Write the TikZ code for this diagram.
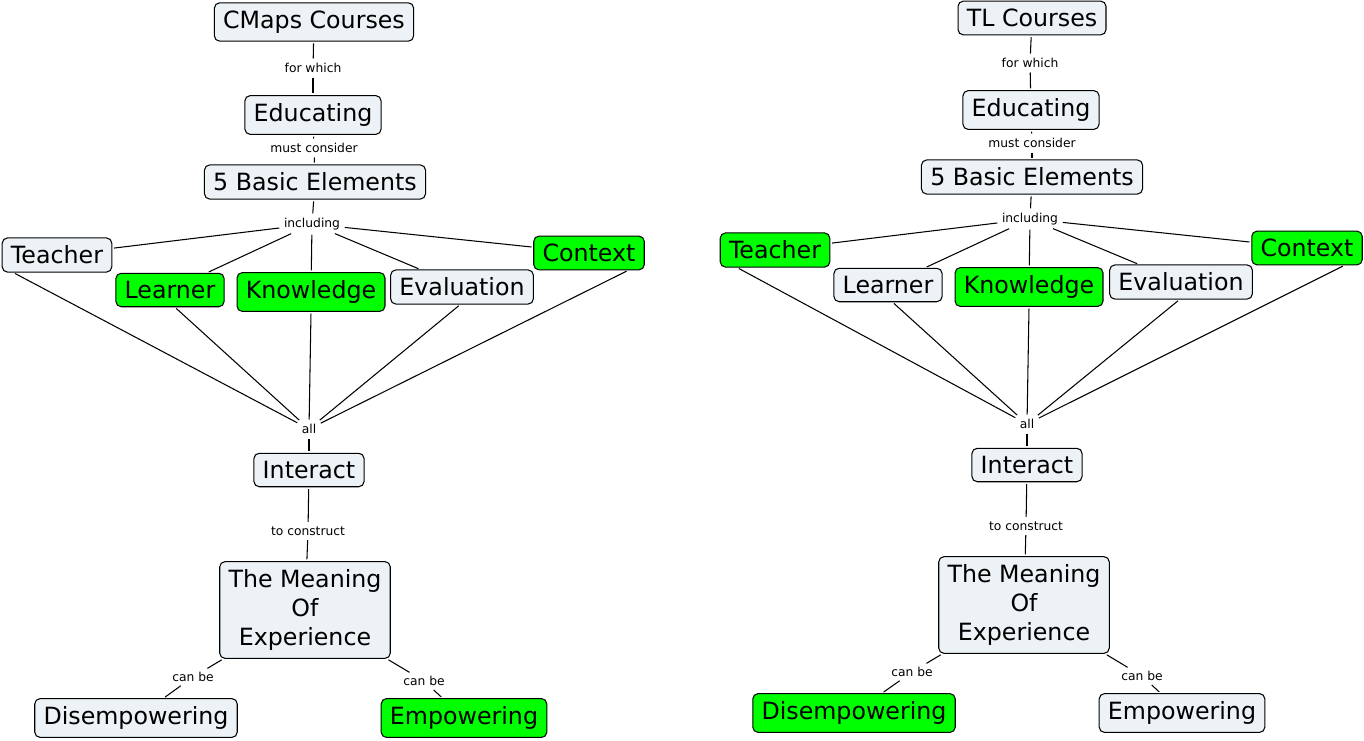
\documentclass[tikz,border=0pt]{standalone}
\usepackage{fontspec}
\setmainfont{DejaVu Sans}
\definecolor{conceptfill}{RGB}{236,242,245}
\definecolor{conceptgreen}{RGB}{0,255,0}
\begin{document}
\begin{tikzpicture}[x=0.02cm, y=-0.02cm,
    concept/.style={draw, line width=0.6pt, rounded corners=3pt, fill=conceptfill,
      inner xsep=5pt, inner ysep=4.5pt, align=center,
      font=\fontsize{13.5}{16.5}\selectfont},
    marked/.style={concept, fill=conceptgreen},
    linking/.style={inner sep=1.5pt, font=\fontsize{7}{8}\selectfont},
    link/.style={line width=0.6pt, shorten <=1pt, shorten >=1pt}]
  \useasboundingbox (0,0) rectangle (1364,740);
  {
  % Left map: concepts
  \node [concept] (coursesL) at (314,22) {CMaps Courses};%
  \node [concept] (educatingL) at (313,115) {Educating};%
  \node [concept] (elementsL) at (315,182) {5 Basic Elements};%
  \node [concept] (teacherL) at (57,255) {Teacher};%
  \node [marked] (learnerL) at (170,290) {Learner};%
  \node [marked] (knowledgeL) at (311,292) {Knowledge};%
  \node [concept] (evaluationL) at (462,287) {Evaluation};%
  \node [marked] (contextL) at (589,253) {Context};%
  \node [concept] (interactL) at (309,470) {Interact};%
  \node [concept] (meaningL) at (305,610) {The Meaning\\Of\\Experience};%
  \node [concept] (disempL) at (136,718) {Disempowering};%
  \node [marked] (empL) at (464,718) {Empowering};%

  % Left map: linking phrases
  \node [linking] (forwhichL) at (313,68) {for which};%
  \node [linking] (considerL) at (314,148) {must consider};%
  \node [linking] (includingL) at (312,224) {including};%
  \node [linking] (allL) at (309,429) {all};%
  \node [linking] (constructL) at (308,531) {to construct};%
  \node [linking] (canbeAL) at (193,677) {can be};%
  \node [linking] (canbeBL) at (424,681) {can be};%

  % Left map: connectors down the spine
  \draw [link] (coursesL) -- (forwhichL);%
  \draw [link] (forwhichL) -- (educatingL);%
  \draw [link] (educatingL) -- (considerL);%
  \draw [link] (considerL) -- (elementsL);%
  \draw [link] (elementsL) -- (includingL);%

  % Left map: including the five elements
  \draw [link] (includingL) -- (teacherL);%
  \draw [link] (includingL) -- (learnerL);%
  \draw [link] (includingL) -- (knowledgeL);%
  \draw [link] (includingL) -- (evaluationL);%
  \draw [link] (includingL) -- (contextL);%

  % Left map: all of them interact
  \draw [link] (teacherL.202) -- (allL);%
  \draw [link] (learnerL.286) -- (allL);%
  \draw [link] (knowledgeL.south) -- (allL);%
  \draw [link] (evaluationL.264) -- (allL);%
  \draw [link] (contextL.336) -- (allL);%
  \draw [link] (allL) -- (interactL);%
  \draw [link] (interactL) -- (constructL);%
  \draw [link] (constructL) -- (meaningL);%
  \draw [link] (meaningL) -- (canbeAL);%
  \draw [link] (canbeAL) -- (disempL);%
  \draw [link] (meaningL) -- (canbeBL);%
  \draw [link] (canbeBL) -- (empL);%

  % Right map: concepts
  \node [concept] (coursesR) at (1032,18) {TL Courses};%
  \node [concept] (educatingR) at (1031,110) {Educating};%
  \node [concept] (elementsR) at (1032,177) {5 Basic Elements};%
  \node [marked] (teacherR) at (775,250) {Teacher};%
  \node [concept] (learnerR) at (888,285) {Learner};%
  \node [marked] (knowledgeR) at (1029,287) {Knowledge};%
  \node [concept] (evaluationR) at (1181,282) {Evaluation};%
  \node [marked] (contextR) at (1307,248) {Context};%
  \node [concept] (interactR) at (1027,465) {Interact};%
  \node [concept] (meaningR) at (1024,605) {The Meaning\\Of\\Experience};%
  \node [marked] (disempR) at (854,713) {Disempowering};%
  \node [concept] (empR) at (1182,713) {Empowering};%

  % Right map: linking phrases
  \node [linking] (forwhichR) at (1030,63) {for which};%
  \node [linking] (considerR) at (1032,143) {must consider};%
  \node [linking] (includingR) at (1030,219) {including};%
  \node [linking] (allR) at (1027,424) {all};%
  \node [linking] (constructR) at (1026,526) {to construct};%
  \node [linking] (canbeAR) at (912,672) {can be};%
  \node [linking] (canbeBR) at (1142,676) {can be};%

  % Right map: connectors down the spine
  \draw [link] (coursesR) -- (forwhichR);%
  \draw [link] (forwhichR) -- (educatingR);%
  \draw [link] (educatingR) -- (considerR);%
  \draw [link] (considerR) -- (elementsR);%
  \draw [link] (elementsR) -- (includingR);%

  % Right map: including the five elements
  \draw [link] (includingR) -- (teacherR);%
  \draw [link] (includingR) -- (learnerR);%
  \draw [link] (includingR) -- (knowledgeR);%
  \draw [link] (includingR) -- (evaluationR);%
  \draw [link] (includingR) -- (contextR);%

  % Right map: all of them interact
  \draw [link] (teacherR.205) -- (allR);%
  \draw [link] (learnerR.285) -- (allR);%
  \draw [link] (knowledgeR.south) -- (allR);%
  \draw [link] (evaluationR.265) -- (allR);%
  \draw [link] (contextR.335) -- (allR);%
  \draw [link] (allR) -- (interactR);%
  \draw [link] (interactR) -- (constructR);%
  \draw [link] (constructR) -- (meaningR);%
  \draw [link] (meaningR) -- (canbeAR);%
  \draw [link] (canbeAR) -- (disempR);%
  \draw [link] (meaningR) -- (canbeBR);%
  \draw [link] (canbeBR) -- (empR);%
  }
\end{tikzpicture}
\end{document}
